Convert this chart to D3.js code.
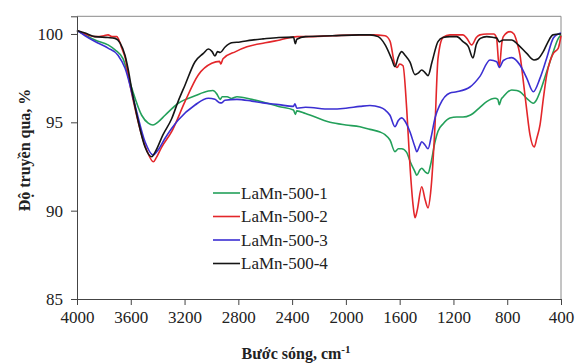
<!DOCTYPE html>
<html>
<head>
<meta charset="utf-8">
<script src="https://cdn.jsdelivr.net/npm/d3@7"></script>
<style>
  html, body { margin: 0; padding: 0; background: #fff; }
  svg { display: block; }
</style>
</head>
<body>
<svg id="chart" width="586" height="364"></svg>
<script>
// FTIR transmittance spectra, [wavenumber (cm-1), transmittance (%)]
const seriesNames = ["LaMn-500-1", "LaMn-500-2", "LaMn-500-3", "LaMn-500-4"];
const seriesColors = ["#23a05a", "#e3262a", "#3b2fd2", "#151515"];

const lamn1 = [
  [4000,100.2],[3940,99.95],[3866,99.66],[3769,99.38],[3717,99.1],[3658,98.6],[3593,96.94],
  [3519,95.4],[3470,94.95],[3435,94.85],[3400,95.0],[3345,95.4],[3247,96.08],[3122,96.5],
  [3023,96.77],[2990,96.8],[2960,96.6],[2949,96.45],[2935,96.3],[2920,96.45],[2884,96.45],
  [2850,96.35],[2810,96.45],[2700,96.3],[2617,96.15],[2500,95.9],[2390,95.7],[2376,95.45],
  [2365,95.65],[2300,95.5],[2118,95.0],[2000,94.85],[1895,94.75],[1821,94.6],[1746,94.45],
  [1709,94.3],[1672,94.0],[1635,93.34],[1610,93.5],[1585,93.5],[1548,93.3],[1523,92.8],
  [1486,92.2],[1473,92.0],[1450,92.3],[1436,92.4],[1410,92.2],[1389,92.1],[1370,92.6],
  [1337,93.9],[1315,94.5],[1278,94.9],[1226,95.24],[1176,95.3],[1129,95.3],[1077,95.4],
  [1055,95.5],[1003,95.85],[953,96.17],[890,96.36],[870,96.3],[859,96.0],[845,96.3],
  [829,96.45],[767,96.83],[729,96.8],[705,96.73],[655,96.36],[606,96.08],[580,96.3],
  [556,96.73],[506,97.87],[457,99.0],[420,99.75],[400,99.95]
];

const lamn2 = [
  [4000,100.2],[3940,100.0],[3866,99.85],[3800,99.9],[3769,99.95],[3740,99.85],[3705,99.85],
  [3680,99.5],[3667,99.2],[3640,98.6],[3620,97.7],[3569,95.8],[3520,94.3],[3480,93.4],
  [3432,92.77],[3410,93.0],[3370,93.6],[3296,94.47],[3197,96.17],[3098,97.68],[2998,98.34],
  [2940,98.45],[2930,98.3],[2914,98.6],[2820,99.0],[2736,99.27],[2600,99.5],[2490,99.66],
  [2364,99.85],[2300,99.85],[2100,99.9],[1900,99.95],[1800,99.95],[1709,99.9],[1672,99.6],
  [1640,98.4],[1620,98.1],[1600,98.3],[1575,98.2],[1548,95.8],[1523,92.5],[1500,90.3],
  [1486,89.6],[1470,90.0],[1436,91.35],[1410,90.6],[1389,90.16],[1370,91.0],[1337,94.85],
  [1315,98.6],[1278,99.8],[1226,99.95],[1176,99.95],[1129,99.95],[1100,99.75],[1064,99.38],
  [1030,99.8],[1003,99.95],[953,100.0],[900,100.0],[880,99.8],[859,98.1],[840,99.5],
  [829,99.85],[779,100.13],[750,100.0],[729,99.57],[705,98.8],[680,97.3],[655,95.7],
  [631,94.3],[599,93.6],[580,94.1],[556,94.85],[532,96.3],[506,97.7],[480,98.5],
  [457,98.9],[420,99.2],[410,99.5],[400,99.9]
];

const lamn3 = [
  [4000,100.2],[3940,99.9],[3866,99.57],[3769,99.2],[3695,98.8],[3643,98.07],[3569,95.98],
  [3494,93.9],[3435,93.15],[3400,93.4],[3345,94.1],[3247,95.13],[3122,95.98],[3023,96.36],
  [2974,96.3],[2935,96.1],[2924,96.1],[2900,96.25],[2810,96.3],[2700,96.2],[2617,96.1],
  [2500,96.0],[2390,95.9],[2379,96.05],[2365,95.8],[2300,95.85],[2118,95.75],[2000,95.8],
  [1895,95.9],[1821,95.95],[1746,95.85],[1709,95.7],[1672,95.4],[1635,94.75],[1610,95.1],
  [1585,95.25],[1548,94.9],[1523,94.45],[1486,93.6],[1473,93.34],[1450,93.7],[1436,93.9],
  [1410,93.7],[1389,93.5],[1365,94.2],[1337,95.25],[1300,96.0],[1226,96.66],[1176,96.73],
  [1077,97.0],[1003,97.6],[928,98.53],[878,98.43],[859,98.1],[829,98.5],[767,98.66],
  [705,98.24],[655,97.5],[606,96.73],[556,97.5],[506,98.64],[457,99.77],[420,100.0],[400,100.05]
];

const lamn4 = [
  [4000,100.2],[3940,100.05],[3866,99.85],[3769,99.8],[3717,99.75],[3680,99.5],[3643,98.8],
  [3621,98.06],[3594,96.9],[3544,95.03],[3494,93.6],[3444,93.05],[3420,93.3],[3360,94.3],
  [3296,95.2],[3247,96.2],[3197,97.1],[3122,98.43],[3060,98.9],[3023,99.15],[2995,99.0],
  [2974,98.75],[2955,99.0],[2935,98.95],[2900,99.25],[2850,99.5],[2788,99.55],[2700,99.65],
  [2616,99.72],[2500,99.8],[2390,99.82],[2376,99.45],[2365,99.7],[2300,99.85],[2100,99.9],
  [1900,99.95],[1821,99.95],[1760,99.85],[1709,99.4],[1660,98.6],[1635,98.15],[1610,98.7],
  [1585,99.0],[1560,98.8],[1523,98.4],[1486,97.7],[1460,97.8],[1436,97.96],[1410,97.8],
  [1389,97.64],[1360,98.4],[1315,99.57],[1278,99.8],[1226,99.85],[1176,99.85],[1129,99.57],
  [1090,99.3],[1055,98.64],[1030,99.4],[1000,99.75],[953,99.85],[900,99.8],[878,99.77],
  [859,99.55],[829,99.66],[767,99.66],[720,99.4],[655,98.9],[600,98.53],[570,98.6],
  [532,99.0],[500,99.5],[460,99.95],[400,100.0]
];

const xTicks = [4000, 3600, 3200, 2800, 2400, 2000, 1600, 1200, 800, 400];
const yTicks = [85, 90, 95, 100];

const seriesData = [lamn1, lamn2, lamn3, lamn4];

const FONT = "'Liberation Serif', 'Times New Roman', Times, serif";

const svg = d3.select("#chart").attr("font-family", FONT);
const W = 586, H = 364;
const margin = { left: 77, right: 25, top: 16.3, bottom: 65 };
const innerW = W - margin.left - margin.right;
const innerH = H - margin.top - margin.bottom;

svg.append("rect").attr("width", W).attr("height", H).attr("fill", "#fff");

const x = d3.scaleLinear().domain([4000, 400]).range([margin.left, margin.left + innerW]);
const y = d3.scaleLinear().domain([85, 101]).range([margin.top + innerH, margin.top]);

// frame: top and right edges
svg.append("path")
  .attr("d", `M${x(4000)},${y(101)}H${x(400)}V${y(85)}`)
  .attr("fill", "none").attr("stroke", "#8a8a8a").attr("stroke-width", 1);

const line = d3.line()
  .x(d => x(d[0]))
  .y(d => y(d[1]))
  .curve(d3.curveMonotoneX);

svg.append("g").selectAll("path")
  .data(seriesData)
  .join("path")
  .attr("d", line)
  .attr("fill", "none")
  .attr("stroke", (d, i) => seriesColors[i])
  .attr("stroke-width", 1.6)
  .attr("stroke-linejoin", "round");

// axes
const xAxis = svg.append("g")
  .attr("transform", `translate(0,${y(85)})`)
  .call(d3.axisBottom(x).tickValues(xTicks).tickSize(6).tickPadding(6).tickFormat(d3.format("d")));
const yAxis = svg.append("g")
  .attr("transform", `translate(${x(4000)},0)`)
  .call(d3.axisLeft(y).tickValues(yTicks).tickSize(6).tickPadding(8));

[xAxis, yAxis].forEach(g => {
  g.attr("font-family", FONT).attr("font-size", 17);
  g.select(".domain").attr("stroke", "#444");
  g.selectAll(".tick line").attr("stroke", "#444");
  g.selectAll(".tick text")
    .style("font-family", FONT)
    .attr("font-size", 17).attr("fill", "#222");
});

// axis titles
svg.append("text")
  .attr("x", 296).attr("y", 359)
  .attr("text-anchor", "middle")
  .style("font-family", FONT)
  .attr("font-size", 16).attr("font-weight", "bold").attr("fill", "#222")
  .html('Bước sóng, cm<tspan dy="-6" font-size="11">-1</tspan>');

svg.append("text")
  .attr("transform", `translate(30,150) rotate(-90)`)
  .attr("text-anchor", "middle")
  .style("font-family", FONT)
  .attr("font-size", 16).attr("font-weight", "bold").attr("fill", "#222")
  .text("Độ truyền qua, %");

// legend
const legend = svg.append("g");
seriesNames.forEach((name, i) => {
  const ly = 193 + i * 23.5;
  legend.append("line")
    .attr("x1", 213).attr("x2", 240).attr("y1", ly).attr("y2", ly)
    .attr("stroke", seriesColors[i]).attr("stroke-width", 1.6);
  legend.append("text")
    .attr("x", 241).attr("y", ly + 5.5)
    .style("font-family", FONT)
    .attr("font-size", 17).attr("fill", "#222")
    .text(name);
});
</script>
</body>
</html>
